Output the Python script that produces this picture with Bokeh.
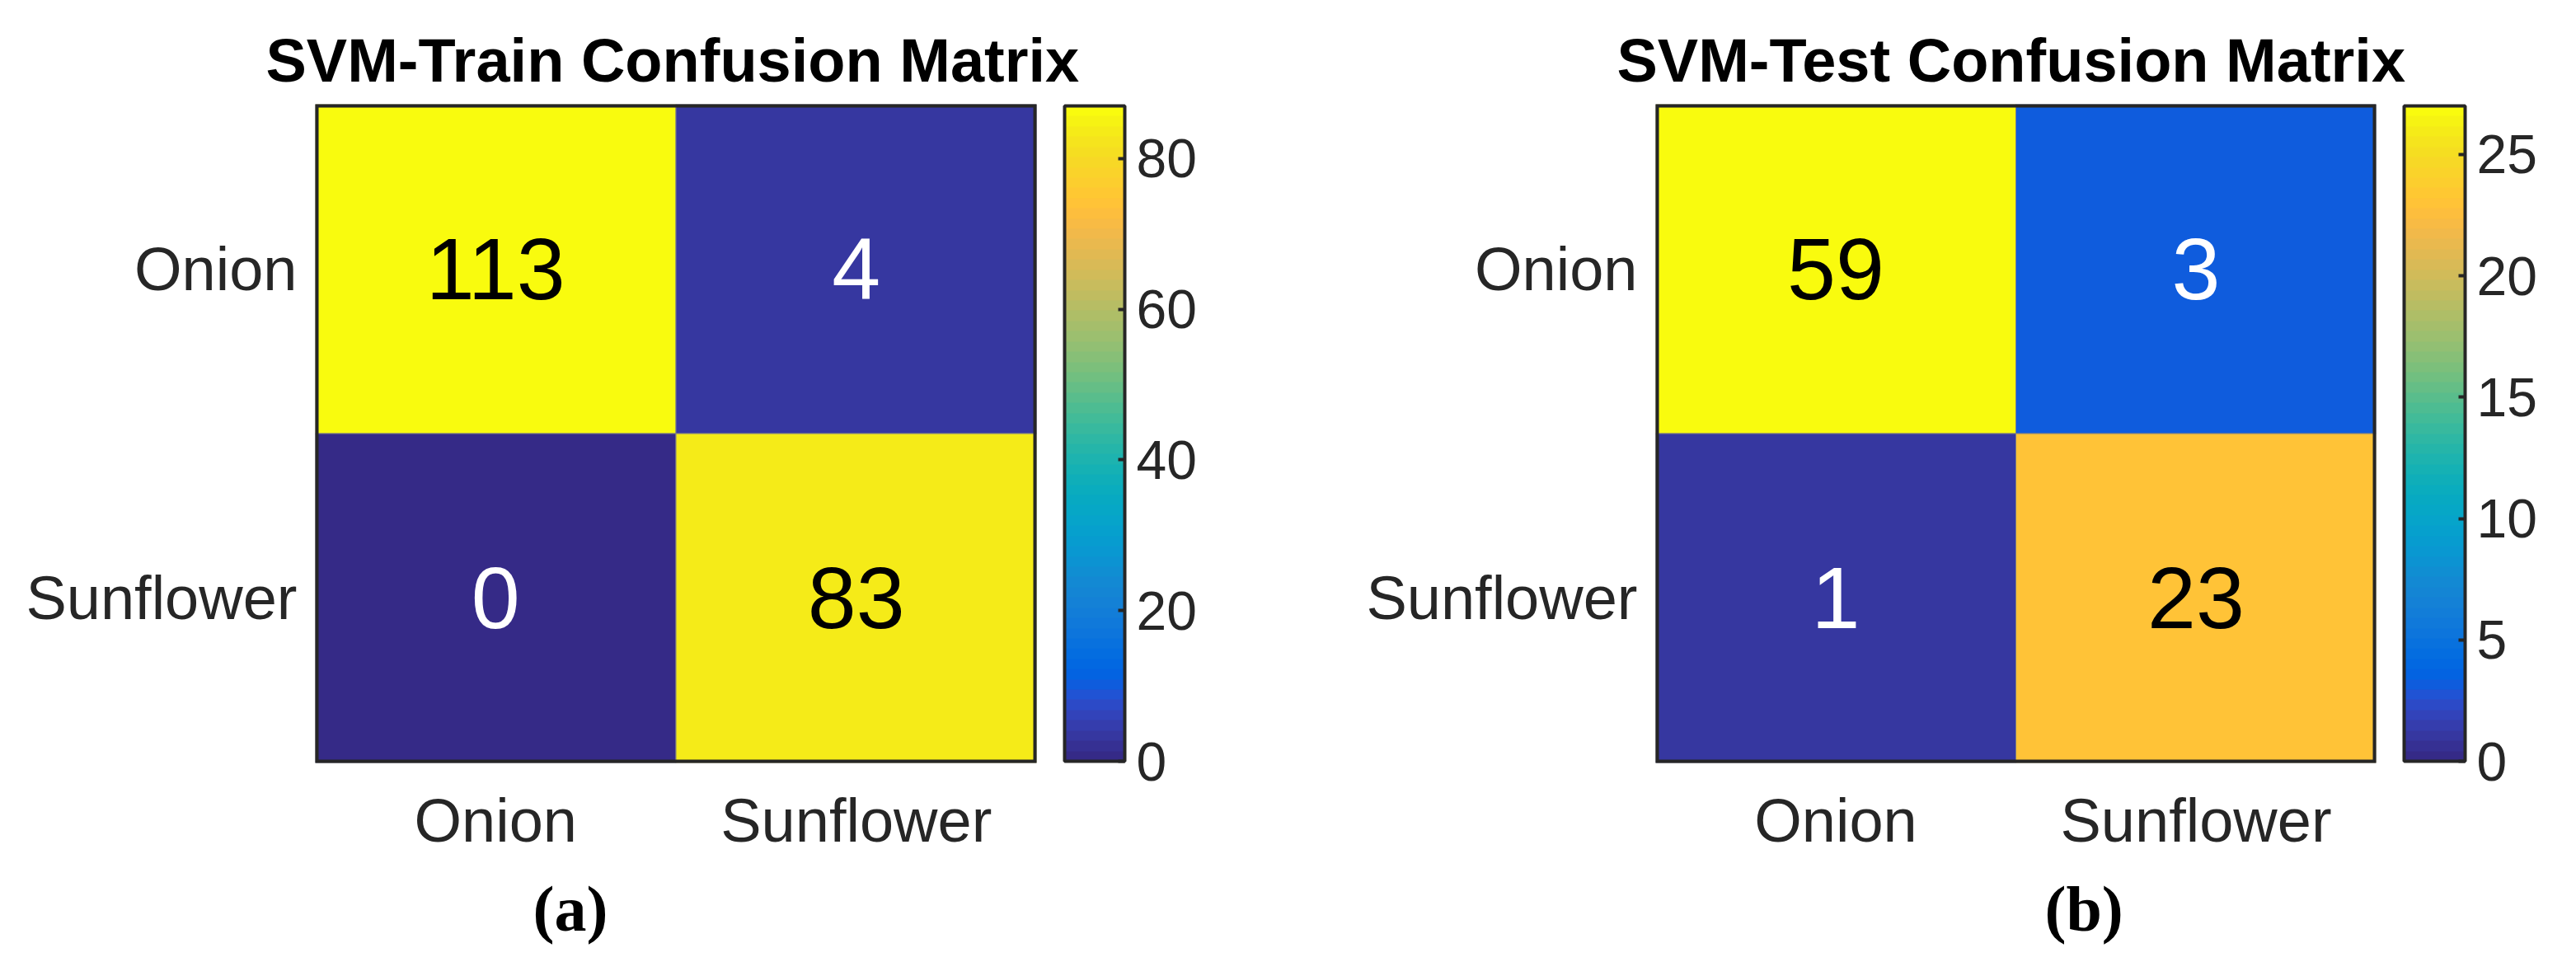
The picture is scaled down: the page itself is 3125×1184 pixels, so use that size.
from bokeh.core.properties import value
from bokeh.embed import file_html
from bokeh.layouts import row
from bokeh.models import BoxAnnotation, ColorBar, ColumnDataSource, FixedTicker, LinearColorMapper, Title
from bokeh.plotting import figure
from bokeh.resources import INLINE

categories = ["Onion", "Sunflower"]
pred_labels = ["Onion", "Sunflower", "Onion", "Sunflower"]
true_labels = ["Onion", "Onion", "Sunflower", "Sunflower"]
train_counts = [113, 4, 0, 83]
test_counts = [59, 3, 1, 23]
train_title = "SVM-Train Confusion Matrix"
test_title = "SVM-Test Confusion Matrix"
train_clim_max = 87
test_clim_max = 27
train_ticks = [0, 20, 40, 60, 80]
test_ticks = [0, 5, 10, 15, 20, 25]

PARULA = [
 (0.2081,0.1663,0.5292),(0.2116,0.1898,0.5777),(0.2123,0.2138,0.6270),(0.2081,0.2386,0.6771),
 (0.1959,0.2645,0.7279),(0.1707,0.2919,0.7792),(0.1253,0.3242,0.8303),(0.0591,0.3598,0.8683),
 (0.0117,0.3875,0.8820),(0.0060,0.4086,0.8828),(0.0165,0.4266,0.8786),(0.0329,0.4430,0.8720),
 (0.0498,0.4586,0.8641),(0.0629,0.4737,0.8554),(0.0723,0.4887,0.8467),(0.0779,0.5040,0.8384),
 (0.0793,0.5200,0.8312),(0.0749,0.5375,0.8263),(0.0641,0.5570,0.8240),(0.0488,0.5772,0.8228),
 (0.0343,0.5966,0.8199),(0.0265,0.6137,0.8135),(0.0239,0.6287,0.8038),(0.0231,0.6418,0.7913),
 (0.0228,0.6535,0.7768),(0.0267,0.6642,0.7607),(0.0384,0.6743,0.7436),(0.0590,0.6838,0.7254),
 (0.0843,0.6928,0.7062),(0.1133,0.7015,0.6859),(0.1453,0.7098,0.6646),(0.1801,0.7177,0.6424),
 (0.2178,0.7250,0.6193),(0.2586,0.7317,0.5954),(0.3022,0.7376,0.5712),(0.3482,0.7424,0.5473),
 (0.3953,0.7459,0.5244),(0.4420,0.7481,0.5033),(0.4871,0.7491,0.4840),(0.5300,0.7491,0.4661),
 (0.5709,0.7485,0.4494),(0.6099,0.7473,0.4337),(0.6473,0.7456,0.4188),(0.6834,0.7435,0.4044),
 (0.7184,0.7411,0.3905),(0.7525,0.7384,0.3768),(0.7858,0.7356,0.3633),(0.8185,0.7327,0.3498),
 (0.8507,0.7299,0.3360),(0.8824,0.7274,0.3217),(0.9139,0.7258,0.3063),(0.9450,0.7261,0.2886),
 (0.9739,0.7314,0.2666),(0.9938,0.7455,0.2403),(0.9990,0.7653,0.2164),(0.9955,0.7861,0.1967),
 (0.9880,0.8066,0.1794),(0.9789,0.8271,0.1633),(0.9697,0.8481,0.1475),(0.9626,0.8705,0.1309),
 (0.9589,0.8949,0.1132),(0.9598,0.9218,0.0948),(0.9661,0.9514,0.0755),(0.9763,0.9831,0.0538),
]
palette = ["#%02x%02x%02x" % tuple(round(c * 255) for c in rgb) for rgb in PARULA]

INK = "#262626"
SANS = "Liberation Sans"
SERIF = "Liberation Serif"


def panel(title, counts, clim_max, ticks, tag, width, frame_w, border_left, title_off, tag_x, bar_x, bar_w):
    mapper = LinearColorMapper(palette=palette, low=0, high=clim_max)
    text_colors = ["black" if v > clim_max / 2 else "white" for v in counts]
    src = ColumnDataSource(dict(x=pred_labels, y=true_labels, v=counts,
                                t=[str(v) for v in counts], c=text_colors))
    p = figure(x_range=categories, y_range=categories[::-1], output_backend="svg",
               toolbar_location=None,
               frame_width=frame_w, frame_height=799,
               min_border_left=border_left, min_border_top=126,
               min_border_right=width - frame_w - border_left, min_border_bottom=240)
    p.rect("x", "y", width=1, height=1, source=src, line_color="#808080", line_width=1,
           fill_color={"field": "v", "transform": mapper})
    p.text("x", "y", text="t", source=src, text_color="c", text_align="center",
           text_baseline="middle", text_font=value(SANS), text_font_size="106px")

    p.grid.visible = False
    p.background_fill_color = "white"
    p.outline_line_color = None
    p.add_layout(BoxAnnotation(fill_alpha=0, line_color=INK, line_width=8, line_alpha=1))
    for ax in (p.xaxis[0], p.yaxis[0]):
        ax.axis_line_color = None
        ax.major_tick_line_color = None
        ax.minor_tick_line_color = None
        ax.major_label_text_font = SANS
        ax.major_label_text_font_size = "74px"
        ax.major_label_text_color = INK
    p.xaxis[0].major_label_standoff = 22
    p.yaxis[0].major_label_standoff = 16
    p.yaxis[0].major_label_orientation = "horizontal"

    p.title.text = title
    p.title.align = "left"
    p.title.offset = title_off
    p.title.text_font = SANS
    p.title.text_font_size = "74px"
    p.title.text_font_style = "bold"
    p.title.text_color = "black"
    p.title.standoff = 24

    cb = ColorBar(color_mapper=mapper, ticker=FixedTicker(ticks=ticks),
                  width=bar_w, height=795, location=(bar_x, 2), padding=0, margin=0,
                  background_fill_color=None, border_line_color=None,
                  bar_line_color=INK, bar_line_width=4,
                  major_tick_line_color=INK, major_tick_line_width=4,
                  major_tick_in=8, major_tick_out=0,
                  minor_tick_line_color=None,
                  major_label_text_font=SANS, major_label_text_font_size="66px",
                  major_label_text_color=INK, label_standoff=14)
    p.add_layout(cb, "center")

    p.add_layout(Title(text=tag, align="left", offset=tag_x, standoff=35,
                       text_font=SERIF, text_font_size="78px", text_font_style="bold",
                       text_color="black"), "below")
    return p


left = panel(train_title, train_counts, train_clim_max, train_ticks, "(a)", 1650, 875, 382, -60, 264, 909, 73)
right = panel(test_title, test_counts, test_clim_max, test_ticks, "(b)", 1450, 874, 358, -47, 472, 908, 74)
page = row(left, right, spacing=0)
open("out.html", "w").write(file_html(page, INLINE))
